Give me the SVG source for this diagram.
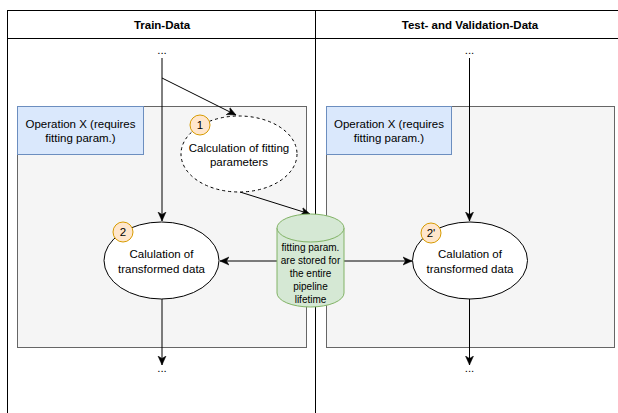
<svg xmlns="http://www.w3.org/2000/svg" width="618" height="413" viewBox="0 0 618 413">
<style>
text{font-family:"Liberation Sans",Arial,sans-serif;font-size:11.5px;fill:#000;text-anchor:middle}
.hdr{font-weight:bold}
.small{font-size:10px}
.lane{fill:none;stroke:#000;stroke-width:1}
.op{fill:#f5f5f5;stroke:#666;stroke-width:1}
.blue{fill:#dae8fc;stroke:#6c8ebf;stroke-width:1}
.ell{fill:#fff;stroke:#000;stroke-width:1}
.dash{fill:#fff;stroke:#000;stroke-width:1;stroke-dasharray:3 3}
.badge{fill:#ffe6cc;stroke:#d79b00;stroke-width:1}
.cyl{fill:#d5e8d4;stroke:#82b366;stroke-width:1}
.edge{fill:none;stroke:#000;stroke-width:1}
</style>
<defs>
<marker id="arr" markerUnits="userSpaceOnUse" markerWidth="10" markerHeight="10" viewBox="0 0 10 10" refX="9" refY="5" orient="auto">
<path d="M0,1 L9,5 L0,9 L2.5,5 z" fill="#000" stroke="#000" stroke-width="0.5"/>
</marker>
</defs>
<rect width="618" height="413" fill="#fff"/>
<g id="lanes">
<rect class="lane" x="7.5" y="10.5" width="620" height="420"/>
<line class="lane" x1="7.5" y1="38.5" x2="630" y2="38.5"/>
<line class="lane" x1="315.5" y1="10.5" x2="315.5" y2="420"/>
<text class="hdr" x="162" y="29">Train-Data</text>
<text class="hdr" x="470" y="29">Test- and Validation-Data</text>
</g>
<g id="opLeft">
<rect class="op" x="17.5" y="106.5" width="289" height="241"/>
<rect class="blue" x="17.5" y="106.5" width="126" height="48"/>
<text x="80.5" y="128">Operation X (requires</text>
<text x="80.5" y="142">fitting param.)</text>
</g>
<g id="opRight">
<rect class="op" x="326.5" y="106.5" width="288" height="241"/>
<rect class="blue" x="326.5" y="106.5" width="125" height="48"/>
<text x="389" y="128">Operation X (requires</text>
<text x="389" y="142">fitting param.)</text>
</g>
<g id="dotsTopLeft"><text x="162" y="54">...</text></g>
<g id="dotsTopRight"><text x="469.5" y="54">...</text></g>
<g id="dotsBottomLeft"><text x="162" y="372">...</text></g>
<g id="dotsBottomRight"><text x="469.5" y="372">...</text></g>
<g id="connectors">
<line class="edge" x1="162" y1="58" x2="162" y2="221" marker-end="url(#arr)"/>
<polyline class="edge" points="162,78 236,115" marker-end="url(#arr)"/>
<line class="edge" x1="240" y1="192" x2="310" y2="214" marker-end="url(#arr)"/>
<line class="edge" x1="162" y1="299" x2="162" y2="365" marker-end="url(#arr)"/>
<line class="edge" x1="277" y1="261" x2="220" y2="261" marker-end="url(#arr)"/>
<line class="edge" x1="344" y1="261" x2="412" y2="261" marker-end="url(#arr)"/>
<line class="edge" x1="469.5" y1="58" x2="469.5" y2="221" marker-end="url(#arr)"/>
<line class="edge" x1="469.5" y1="299" x2="469.5" y2="365" marker-end="url(#arr)"/>
</g>
<g id="calcFit">
<ellipse class="dash" cx="239" cy="154" rx="58" ry="38"/>
<text x="239" y="152">Calculation of fitting</text>
<text x="239" y="166">parameters</text>
<circle class="badge" cx="200" cy="125" r="10"/>
<text x="200" y="129">1</text>
</g>
<g id="calcLeft">
<ellipse class="ell" cx="161.5" cy="260.5" rx="57.5" ry="38.5"/>
<text x="161.5" y="258">Calulation of</text>
<text x="161.5" y="273">transformed data</text>
<circle class="badge" cx="123" cy="232" r="10"/>
<text x="123" y="236">2</text>
</g>
<g id="calcRight">
<ellipse class="ell" cx="470" cy="260.5" rx="57.5" ry="38.5"/>
<text x="470" y="258">Calulation of</text>
<text x="470" y="273">transformed data</text>
<circle class="badge" cx="431" cy="233" r="10"/>
<text x="431" y="237">2'</text>
</g>
<g id="store">
<path class="cyl" d="M277,228 A33.5,14 0 0 1 344,228 V293 A33.5,14 0 0 1 277,293 Z"/>
<path class="cyl" d="M277,228 A33.5,14 0 0 0 344,228" fill="none"/>
<text class="small" x="310.5" y="250.5">fitting param.</text>
<text class="small" x="310.5" y="263.5">are stored for</text>
<text class="small" x="310.5" y="276.5">the entire</text>
<text class="small" x="310.5" y="289.5">pipeline</text>
<text class="small" x="310.5" y="302.5">lifetime</text>
</g>
</svg>
